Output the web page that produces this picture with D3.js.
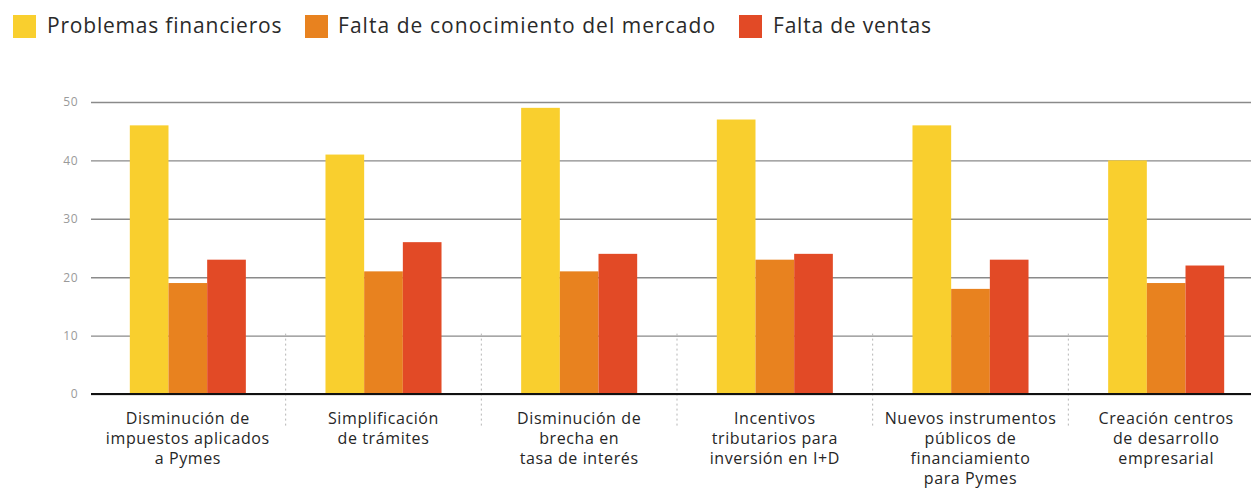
<!DOCTYPE html>
<html>
<head>
<meta charset="utf-8">
<script src="https://cdn.jsdelivr.net/npm/d3@7/dist/d3.min.js"></script>
<style>
  html, body { margin: 0; padding: 0; background: #fff; }
  svg { display: block; font-family: "Open Sans", Lato, sans-serif; }
</style>
</head>
<body>
<svg id="chart" width="1251" height="488"></svg>
<script>
// Categories (multi-line labels)
const categories = [
  ["Disminución de", "impuestos aplicados", "a Pymes"],
  ["Simplificación", "de trámites"],
  ["Disminución de", "brecha en", "tasa de interés"],
  ["Incentivos", "tributarios para", "inversión en I+D"],
  ["Nuevos instrumentos", "públicos de", "financiamiento", "para Pymes"],
  ["Creación centros", "de desarrollo", "empresarial"]
];
const seriesNames = ["Problemas financieros", "Falta de conocimiento del mercado", "Falta de ventas"];
const problemasFinancieros = [46, 41, 49, 47, 46, 40];
const faltaConocimiento   = [19, 21, 21, 23, 18, 19];
const faltaVentas         = [23, 26, 24, 24, 23, 22];
const yTicks = [0, 10, 20, 30, 40, 50];

const seriesValues = [problemasFinancieros, faltaConocimiento, faltaVentas];
const colors = ["#F9CF2E", "#E8821F", "#E24A26"];

const svg = d3.select("#chart");
const plot = { left: 90, right: 1264, top: 102, bottom: 394, gridEnd: 1251 };

const keys = categories.map((c, i) => "c" + i);
const x0 = d3.scaleBand().domain(keys).range([plot.left, plot.right])
  .paddingInner(0.407).paddingOuter(0.2035);
const x1 = d3.scaleBand().domain(seriesNames).range([0, x0.bandwidth()]);
const y = d3.scaleLinear().domain([0, 50]).range([plot.bottom, plot.top]);

// Gridlines + tick labels
const yAxis = d3.axisLeft(y).tickValues(yTicks).tickSize(0).tickPadding(13);
const gy = svg.append("g").attr("transform", `translate(${plot.left + 1},0)`).call(yAxis);
gy.select(".domain").remove();
gy.selectAll("text").attr("fill", "#9a9a9a").attr("font-size", 12)
  .attr("font-family", "'Open Sans', sans-serif").attr("letter-spacing", 0.5);
gy.selectAll(".tick").append("line")
  .attr("x1", 0).attr("x2", plot.gridEnd - plot.left - 1)
  .attr("stroke", "#8a8a8a").attr("stroke-width", 1.4);

// Dotted separators between groups
const seps = keys.slice(1).map(k => x0(k) - x0.step() * x0.paddingInner() / 2);
svg.append("g").selectAll("line").data(seps).join("line")
  .attr("x1", d => d).attr("x2", d => d)
  .attr("y1", y(10) - 2).attr("y2", 428)
  .attr("stroke", "#b5b5b5").attr("stroke-width", 1)
  .attr("stroke-dasharray", "2,3");

// Bars
const groups = svg.append("g").selectAll("g").data(keys).join("g")
  .attr("transform", d => `translate(${x0(d)},0)`);
groups.selectAll("rect")
  .data((d, i) => seriesNames.map((s, j) => ({ s, j, v: seriesValues[j][i] })))
  .join("rect")
  .attr("x", d => x1(d.s))
  .attr("width", x1.bandwidth())
  .attr("y", d => y(d.v))
  .attr("height", d => y(0) - y(d.v))
  .attr("fill", d => colors[d.j]);

// Baseline
svg.append("line")
  .attr("x1", plot.left + 1).attr("x2", plot.gridEnd)
  .attr("y1", y(0)).attr("y2", y(0))
  .attr("stroke", "#111").attr("stroke-width", 2.2);

// Category labels
const labels = svg.append("g").selectAll("text").data(categories).join("text")
  .attr("x", (d, i) => x0(keys[i]) + x0.bandwidth() / 2)
  .attr("y", 424)
  .attr("text-anchor", "middle")
  .attr("font-size", 16)
  .attr("letter-spacing", 0.6)
  .attr("fill", "#262626");
labels.selectAll("tspan").data(d => d).join("tspan")
  .attr("x", function () { return this.parentNode.getAttribute("x"); })
  .attr("dy", (d, i) => i === 0 ? 0 : 20)
  .text(d => d);

// Legend
const legendX = [13, 305, 739];
const leg = svg.append("g").selectAll("g").data(seriesNames).join("g")
  .attr("transform", (d, i) => `translate(${legendX[i]},15)`);
leg.append("rect").attr("width", 23).attr("height", 23)
  .attr("fill", (d, i) => colors[i]);
leg.append("text").attr("x", d => d.length > 25 ? 33 : 34).attr("y", 18)
  .attr("font-size", 21).attr("letter-spacing", d => d.length > 25 ? 1.05 : 0.8)
  .attr("fill", "#2a2a2a")
  .text(d => d);
</script>
</body>
</html>
